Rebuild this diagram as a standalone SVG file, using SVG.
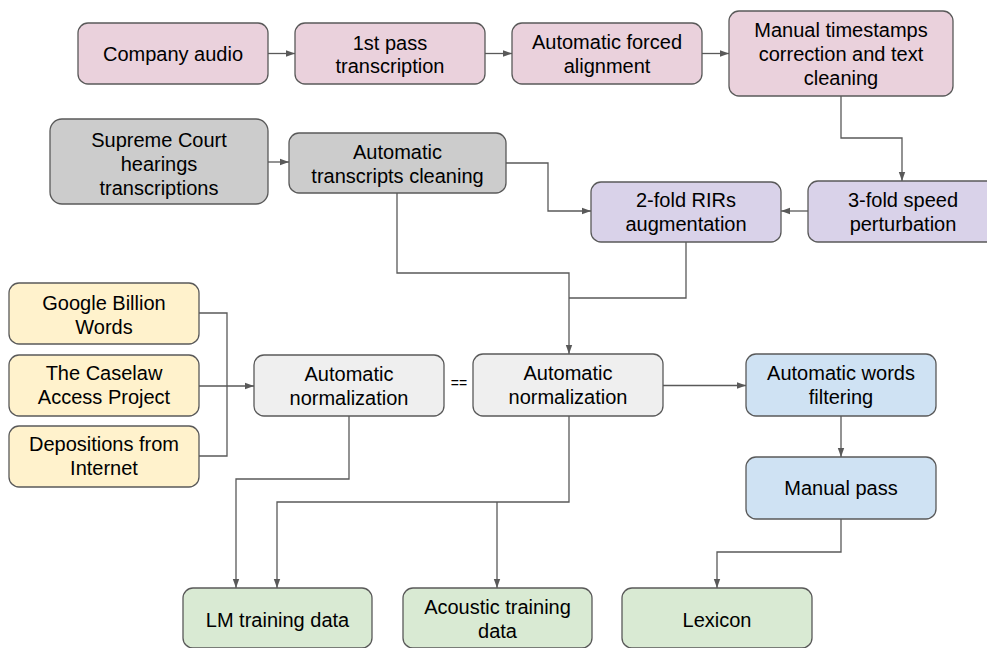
<svg xmlns="http://www.w3.org/2000/svg" width="987" height="648" viewBox="0 0 987 648">
  <style>
    .box { stroke: #595959; stroke-width: 1.3; }
    .pink { fill: #ead1dc; }
    .grey { fill: #cccccc; }
    .lilac { fill: #d9d2e9; }
    .yellow { fill: #fff2cc; }
    .light { fill: #efefef; }
    .blue { fill: #cfe2f3; }
    .green { fill: #d9ead3; }
    text { font-family: "Liberation Sans", Arial, sans-serif; font-size: 20px; fill: #000; text-anchor: middle; }
    .eq { font-size: 14px; }
    .conn path { fill: none; stroke: #595959; stroke-width: 1.3; }
    .conn path.arrow { marker-end: url(#head); }
  </style>
  <defs>
    <marker id="head" markerUnits="userSpaceOnUse" markerWidth="10" markerHeight="8" refX="9" refY="4" orient="auto">
      <path d="M0,0.8 L9,4 L0,7.2 Z" fill="#595959"/>
    </marker>
  </defs>
  <rect width="987" height="648" fill="#ffffff"/>

  <!-- connectors -->
  <g id="connectors" class="conn">
    <path class="arrow" d="M268,53.5 H295"/>
    <path class="arrow" d="M485,53.5 H512"/>
    <path class="arrow" d="M702,53.5 H729"/>
    <path class="arrow" d="M841,96 V138 H902 V181"/>
    <path class="arrow" d="M808,211 H781"/>
    <path class="arrow" d="M268,162 H289"/>
    <path class="arrow" d="M506,163 H548 V211 H591"/>
    <path class="arrow" d="M397,193 V273 H569 V354"/>
    <path d="M686,242 V298 H569"/>
    <path d="M199,313 H227 V456 H199"/>
    <path class="arrow" d="M199,386 H254"/>
    <path class="arrow" d="M349,416 V479 H236 V588"/>
    <path class="arrow" d="M569,416 V502 H277 V588"/>
    <path class="arrow" d="M497,502 V588"/>
    <path class="arrow" d="M663,385.5 H746"/>
    <path class="arrow" d="M841,416 V457"/>
    <path class="arrow" d="M841,519 V552 H717 V588"/>
  </g>

  <!-- audio pipeline -->
  <g id="company-audio">
    <rect class="box pink" x="78" y="23" width="190" height="61" rx="10"/>
    <text x="173" y="61">Company audio</text>
  </g>
  <g id="first-pass">
    <rect class="box pink" x="295" y="23" width="190" height="61" rx="10"/>
    <text x="390" y="50">1st pass</text>
    <text x="390" y="73">transcription</text>
  </g>
  <g id="forced-alignment">
    <rect class="box pink" x="512" y="23" width="190" height="61" rx="10"/>
    <text x="607" y="49">Automatic forced</text>
    <text x="607" y="73">alignment</text>
  </g>
  <g id="manual-timestamps">
    <rect class="box pink" x="729" y="11" width="224" height="85" rx="10"/>
    <text x="841" y="37">Manual timestamps</text>
    <text x="841" y="61">correction and text</text>
    <text x="841" y="85">cleaning</text>
  </g>
  <g id="supreme-court">
    <rect class="box grey" x="50" y="119" width="218" height="85" rx="12"/>
    <text x="159" y="147">Supreme Court</text>
    <text x="159" y="171">hearings</text>
    <text x="159" y="195">transcriptions</text>
  </g>
  <g id="transcripts-cleaning">
    <rect class="box grey" x="289" y="133" width="217" height="60" rx="10"/>
    <text x="397.5" y="159">Automatic</text>
    <text x="397.5" y="183">transcripts cleaning</text>
  </g>
  <g id="rirs-augmentation">
    <rect class="box lilac" x="591" y="182" width="190" height="60" rx="10"/>
    <text x="686" y="207">2-fold RIRs</text>
    <text x="686" y="231">augmentation</text>
  </g>
  <g id="speed-perturbation">
    <rect class="box lilac" x="808" y="181" width="190" height="61" rx="10"/>
    <text x="903" y="207">3-fold speed</text>
    <text x="903" y="231">perturbation</text>
  </g>

  <!-- text corpora -->
  <g id="google-billion-words">
    <rect class="box yellow" x="9" y="283" width="190" height="61" rx="10"/>
    <text x="104" y="310">Google Billion</text>
    <text x="104" y="334">Words</text>
  </g>
  <g id="caselaw">
    <rect class="box yellow" x="9" y="355" width="190" height="61" rx="10"/>
    <text x="104" y="380">The Caselaw</text>
    <text x="104" y="404">Access Project</text>
  </g>
  <g id="depositions">
    <rect class="box yellow" x="9" y="426" width="190" height="61" rx="10"/>
    <text x="104" y="451">Depositions from</text>
    <text x="104" y="475">Internet</text>
  </g>

  <!-- normalization -->
  <g id="normalization-text">
    <rect class="box light" x="254" y="355" width="190" height="61" rx="10"/>
    <text x="349" y="381">Automatic</text>
    <text x="349" y="405">normalization</text>
  </g>
  <text class="eq" x="459" y="388">==</text>
  <g id="normalization-audio">
    <rect class="box light" x="473" y="354" width="190" height="62" rx="10"/>
    <text x="568" y="380">Automatic</text>
    <text x="568" y="404">normalization</text>
  </g>

  <!-- lexicon pipeline -->
  <g id="words-filtering">
    <rect class="box blue" x="746" y="354" width="190" height="62" rx="10"/>
    <text x="841" y="380">Automatic words</text>
    <text x="841" y="404">filtering</text>
  </g>
  <g id="manual-pass">
    <rect class="box blue" x="746" y="457" width="190" height="62" rx="10"/>
    <text x="841" y="495">Manual pass</text>
  </g>

  <!-- outputs -->
  <g id="lm-training-data">
    <rect class="box green" x="183" y="588" width="189" height="60" rx="10"/>
    <text x="277.5" y="627">LM training data</text>
  </g>
  <g id="acoustic-training-data">
    <rect class="box green" x="403" y="588" width="189" height="60" rx="10"/>
    <text x="497.5" y="614">Acoustic training</text>
    <text x="497.5" y="638">data</text>
  </g>
  <g id="lexicon">
    <rect class="box green" x="622" y="588" width="190" height="60" rx="10"/>
    <text x="717" y="627">Lexicon</text>
  </g>
</svg>
